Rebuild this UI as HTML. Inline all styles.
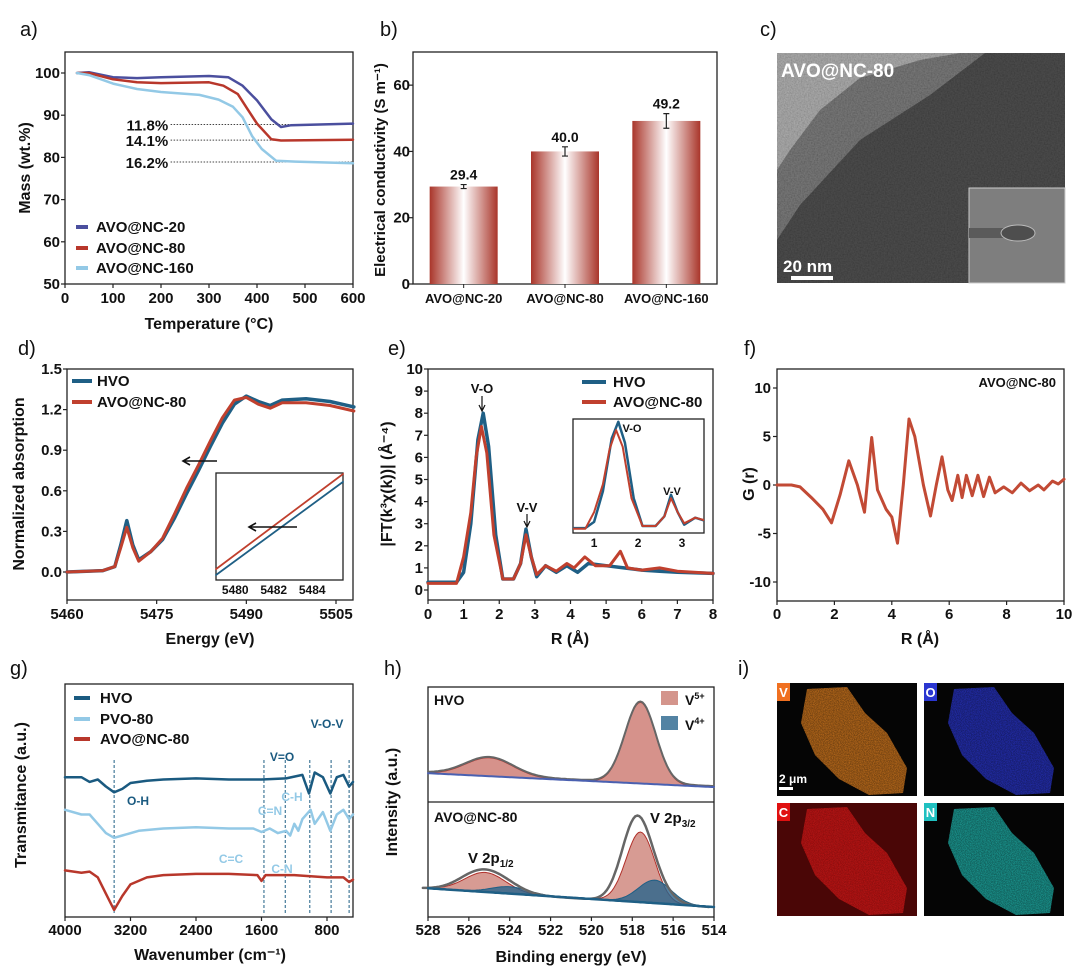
<!DOCTYPE html>
<html><head><meta charset="utf-8">
<style>
html,body{margin:0;padding:0;background:#fff;}
svg{display:block;font-family:"Liberation Sans",Arial,sans-serif;}
text{font-weight:bold;fill:#111;}
text.pl{font-weight:normal;}
</style></head>
<body>
<svg id="fig" width="1080" height="968" viewBox="0 0 1080 968" xmlns="http://www.w3.org/2000/svg">
<defs>
<linearGradient id="barGrad" x1="0" x2="1" y1="0" y2="0">
<stop offset="0" stop-color="#a9352a"/><stop offset="0.5" stop-color="#ffffff"/><stop offset="1" stop-color="#a9352a"/>
</linearGradient>
<filter id="noise" x="0" y="0" width="100%" height="100%">
<feTurbulence type="fractalNoise" baseFrequency="0.7" numOctaves="2" seed="3"/>
<feColorMatrix type="matrix" values="1 0 0 0 0  1 0 0 0 0  1 0 0 0 0  0 0 0 0 1"/>
</filter>
<filter id="speck" x="0" y="0" width="100%" height="100%">
<feTurbulence type="fractalNoise" baseFrequency="1.2" numOctaves="1" seed="7" result="t"/>
<feColorMatrix in="t" type="matrix" values="0 0 0 0 0  0 0 0 0 0  0 0 0 0 0  0 0 0 -1.6 1.1" result="m"/>
<feComposite in="SourceGraphic" in2="m" operator="in"/>
</filter>
</defs>
</svg>
<script>
// ---------- DATA ----------
// a) TGA
const tgaSeriesNames = ['AVO@NC-20','AVO@NC-80','AVO@NC-160'];
const tgaTemp20 = [25,50,100,150,200,300,340,370,400,430,450,470,600];
const tgaMass20 = [100,100.2,99,98.8,99,99.3,99,97,93.5,89,87.2,87.6,88];
const tgaTemp80 = [25,50,100,150,200,300,330,360,380,400,430,450,600];
const tgaMass80 = [100,100,98.5,97.8,97.6,97.8,97,95,91.5,88,84.3,84,84.2];
const tgaTemp160 = [25,50,100,150,200,280,320,350,370,390,410,440,480,600];
const tgaMass160 = [100,99.5,97.5,96.2,95.5,94.8,93.7,92,89.5,85,82,79.2,79,78.6];
const tgaLossLabels = ['11.8%','14.1%','16.2%'];
const tgaLossLevels = [87.8,84.1,78.9];
const tgaXTicks = [0,100,200,300,400,500,600];
const tgaYTicks = [50,60,70,80,90,100];
// b) conductivity
const condCats = ['AVO@NC-20','AVO@NC-80','AVO@NC-160'];
const condVals = [29.4,40.0,49.2];
const condErr = [0.6,1.4,2.2];
const condYTicks = [0,20,40,60];
// d) XANES
const xanesE_H = [5460,5466,5468,5469,5470,5471,5472,5474,5476,5478,5480,5482,5484,5486,5488,5490,5492,5494,5496,5500,5504,5508];
const xanesA_H = [0,0.01,0.04,0.2,0.38,0.2,0.09,0.15,0.24,0.4,0.58,0.75,0.93,1.1,1.24,1.3,1.26,1.23,1.27,1.28,1.26,1.22];
const xanesE_A = [5460,5466,5468,5469,5470,5471,5472,5474,5476,5478,5480,5482,5484,5486,5488,5490,5492,5494,5496,5500,5504,5508];
const xanesA_A = [0,0.01,0.04,0.18,0.33,0.18,0.08,0.15,0.25,0.43,0.62,0.79,0.97,1.14,1.27,1.29,1.24,1.21,1.25,1.25,1.23,1.19];
const xanesInsetE = [5479,5485.6];
const xanesInsetH = [0.50,0.735];
const xanesInsetA = [0.515,0.755];
const xanesXTicks = [5460,5475,5490,5505];
const xanesYTicks = [0,0.3,0.6,0.9,1.2,1.5];
const xanesInsetTicks = [5480,5482,5484];
// e) FT-EXAFS
const ftR_H = [0,0.5,0.8,1.0,1.2,1.4,1.55,1.7,1.9,2.1,2.4,2.6,2.75,2.9,3.05,3.3,3.6,3.9,4.2,4.5,5,5.5,6,6.5,7,8];
const ftM_H = [0.35,0.35,0.35,0.8,3,6.8,8.0,6.5,2.5,0.5,0.5,1.2,2.75,1.5,0.6,1.1,0.8,1.1,0.8,1.2,1.1,1.0,0.9,0.85,0.8,0.75];
const ftR_A = [0,0.5,0.8,1.0,1.2,1.35,1.5,1.65,1.85,2.1,2.4,2.6,2.75,2.9,3.05,3.3,3.6,3.9,4.1,4.4,4.7,5.1,5.4,5.6,6,6.5,7,8];
const ftM_A = [0.3,0.3,0.3,1.5,3.5,6,7.4,6.2,2.5,0.5,0.5,1.2,2.5,1.5,0.7,1.1,0.85,1.2,1.0,1.5,1.1,1.1,1.75,1.0,0.9,1.0,0.85,0.75];
const ftXTicks = [0,1,2,3,4,5,6,7,8];
const ftYTicks = [0,1,2,3,4,5,6,7,8,9,10];
const ftInsetTicks = [1,2,3];
// f) PDF
const pdfR = [0,0.5,0.8,1.2,1.6,1.9,2.2,2.5,2.8,3.05,3.3,3.5,3.8,4.0,4.2,4.4,4.6,4.8,5.1,5.35,5.55,5.75,5.95,6.1,6.3,6.45,6.6,6.8,7.0,7.2,7.4,7.6,7.9,8.2,8.5,8.8,9.1,9.3,9.6,9.8,10];
const pdfG = [0,0,-0.2,-1.3,-2.5,-3.9,-1,2.5,0,-2.8,4.9,-0.5,-2.5,-3.3,-6.0,0,6.8,5,0,-3.2,0,2.9,-0.5,-1.6,1,-1.3,1,-1.1,1,-1.2,0.8,-0.8,-0.2,-0.8,0.2,-0.6,0,-0.5,0.4,0.1,0.6];
const pdfXTicks = [0,2,4,6,8,10];
const pdfYTicks = [-10,-5,0,5,10];
// g) FTIR
const irWn_H = [4000,3800,3700,3600,3500,3400,3300,3200,3000,2800,2400,2000,1600,1300,1100,1020,950,850,760,680,600,530,482];
const irT_H = [60,60,58,59,56,53.5,55,57.5,58.5,59,59.5,59,59,59.5,61,53,62,60,53,60,61,56,58];
const irWn_P = [4000,3800,3700,3600,3500,3400,3300,3100,2800,2400,2000,1700,1600,1500,1400,1300,1250,1200,1150,1100,1000,950,850,760,680,600,530,482];
const irT_P = [46,44,44,40,36,34,35,37,38,38.5,38,38,36.5,38,36,37,35,40,37,42,46,40,45,37,44,46,42,44];
const irWn_A = [4000,3800,3700,3600,3500,3400,3300,3200,3000,2800,2400,2000,1650,1600,1550,1200,1000,800,600,530,482];
const irT_A = [20,19,19.5,17,10,3,9,14,17,18,18.5,18.5,18,15.5,18,18,17.5,17,17,15,16];
const irXTicks = [4000,3200,2400,1600,800];
const irMarkers = [3400,1570,1310,1010,750,530];
// h) XPS peak parameters [center eV, height, sigma]
const xpsHVO_V5 = [[517.6,70.5,0.75],[525.0,16,1.15]];
const xpsHVO_bg = [25,13];
const xpsAVO_V5 = [[517.6,61,0.7],[525.2,17,1.0]];
const xpsAVO_V4 = [[516.9,20,0.8],[524.0,6,0.9]];
const xpsAVO_bg = [25,8.7];
const xpsXTicks = [528,526,524,522,520,518,516,514];

// ---------- HELPERS ----------
const svg = document.getElementById('fig');
const NS = 'http://www.w3.org/2000/svg';
function el(tag, attrs, parent){
  const e = document.createElementNS(NS, tag);
  for (const k in attrs) e.setAttribute(k, attrs[k]);
  (parent||svg).appendChild(e);
  return e;
}
function lin(d0,d1,r0,r1){ return v => r0 + (v-d0)*(r1-r0)/(d1-d0); }
function pathFrom(xs, ys, fx, fy){
  return xs.map((x,i)=>(i?'L':'M')+fx(x).toFixed(1)+','+fy(ys[i]).toFixed(1)).join(' ');
}
function txt(x,y,s,size,anchor,name,extra){
  const t = el('text', Object.assign({x:x,y:y,'font-size':size,'text-anchor':anchor||'middle'}, extra||{}));
  t.textContent = s;
  
  
  return t;
}
function plabel(x,y,s,name){
  const t = txt(x,y,s,20,'start',name);
  t.setAttribute('class','pl');
  return t;
}
function box(x0,y0,x1,y1,name){
  const r = el('rect',{x:x0,y:y0,width:x1-x0,height:y1-y0,fill:'none',stroke:'#222','stroke-width':1.3});
  
  
  return r;
}
function xTicks(ticks, fx, yb, labelY, name, fmt, size){
  ticks.forEach(v=>{
    const l = el('line',{x1:fx(v),x2:fx(v),y1:yb,y2:yb+4,stroke:'#222','stroke-width':1.2});
    
    
    txt(fx(v), labelY, fmt?fmt(v):String(v), size||15, 'middle', name+'-label');
  });
}
function yTicks(ticks, fy, xl, labelX, name, fmt, size){
  ticks.forEach(v=>{
    const l = el('line',{x1:xl-4,x2:xl,y1:fy(v),y2:fy(v),stroke:'#222','stroke-width':1.2});
    
    
    txt(labelX, fy(v)+5, fmt?fmt(v):String(v), size||15, 'end', name+'-label');
  });
}
function series(d, color, w, name, dash){
  const p = el('path',{d:d,fill:'none',stroke:color,'stroke-width':w,'stroke-linejoin':'round','stroke-linecap':'round'});
  if (dash) p.setAttribute('stroke-dasharray', dash);
  
  
  return p;
}
function legendLine(x1,x2,y,color,label,name,tx){
  const l = el('line',{x1:x1,x2:x2,y1:y,y2:y,stroke:color,'stroke-width':4});
  
  
  txt(tx, y+5, label, 15, 'start', name+'-label');
}
function rotLabel(x,y,s,size,name){
  return txt(x,y,s,size,'middle',name,{transform:'rotate(-90 '+x+' '+y+')'});
}

const BLUE='#1f5f85', RED='#b8372b', LBLUE='#93c9e6';

// ---------- PANEL A ----------
plabel(20,36,'a)','panel-label-a');
const xa = lin(0,600,65,353), ya = lin(50,100,284,73);
box(65,52,353,284,'tga-plot-frame');
xTicks(tgaXTicks, xa, 284, 303, 'tga-x');
yTicks(tgaYTicks, ya, 65, 60, 'tga-y');
txt(209,329,'Temperature (°C)',16,'middle','tga-x-title');
rotLabel(30,168,'Mass (wt.%)',16,'tga-y-title');
tgaLossLevels.forEach((lv,i)=>{
  const l = el('line',{x1:xa(220),x2:xa(600),y1:ya(lv),y2:ya(lv),stroke:'#444','stroke-width':1,'stroke-dasharray':'1.5 1.5'});
  
  
  txt(xa(215), ya(lv)+6, tgaLossLabels[i], 15, 'end', 'tga-loss-label');
});
series(pathFrom(tgaTemp20,tgaMass20,xa,ya),'#4b4f9e',2.5,'tga-line-avo-nc-20');
series(pathFrom(tgaTemp80,tgaMass80,xa,ya),RED,2.5,'tga-line-avo-nc-80');
series(pathFrom(tgaTemp160,tgaMass160,xa,ya),LBLUE,2.5,'tga-line-avo-nc-160');
legendLine(76,88,227,'#4b4f9e',tgaSeriesNames[0],'tga-legend-20',96);
legendLine(76,88,248,RED,tgaSeriesNames[1],'tga-legend-80',96);
legendLine(76,88,268,LBLUE,tgaSeriesNames[2],'tga-legend-160',96);

// ---------- PANEL B ----------
plabel(380,36,'b)','panel-label-b');
const yb = lin(0,70,284,52);
const bStep = (717-413)/3;
const xbc = i => 413 + bStep*(i+0.5);
box(413,52,717,284,'conductivity-plot-frame');
yTicks(condYTicks, yb, 413, 410, 'conductivity-y', null, 15);
rotLabel(385,170,'Electrical conductivity (S m⁻¹)',15,'conductivity-y-title');
condCats.forEach((c,i)=>{
  const bw = 68;
  const r = el('rect',{x:xbc(i)-bw/2,y:yb(condVals[i]),width:bw,height:yb(0)-yb(condVals[i]),fill:'url(#barGrad)'});
  
  
  const e1 = el('path',{d:'M'+xbc(i)+','+yb(condVals[i]-condErr[i])+'V'+yb(condVals[i]+condErr[i])+'M'+(xbc(i)-3)+','+yb(condVals[i]-condErr[i])+'h6M'+(xbc(i)-3)+','+yb(condVals[i]+condErr[i])+'h6',stroke:'#222','stroke-width':1.2,fill:'none'});
  
  
  txt(xbc(i), yb(condVals[i]+condErr[i])-5, condVals[i].toFixed(1), 14, 'middle', 'conductivity-value-label');
  const tk = el('line',{x1:xbc(i),x2:xbc(i),y1:284,y2:288,stroke:'#222'});
  
  
  txt(xbc(i), 303, c, 13, 'middle', 'conductivity-category-label');
});

// ---------- PANEL C (TEM) ----------
plabel(760,36,'c)','panel-label-c');
const tem = el('g',{});


el('rect',{x:777,y:53,width:288,height:230,fill:'#3c3c3c'},tem);
el('polygon',{points:'777,53 985,53 930,95 860,140 800,205 777,240',fill:'#5f5f5f'},tem);
el('polygon',{points:'777,53 960,53 920,60 860,78 820,110 790,150 777,170',fill:'#8c8c8c'},tem);
el('rect',{x:777,y:53,width:288,height:230,filter:'url(#noise)',opacity:0.3,style:'mix-blend-mode:overlay'},tem);
el('rect',{x:969,y:188,width:96,height:95,fill:'#7e7e7e',stroke:'#ccc','stroke-width':1},tem);
el('rect',{x:969,y:228,width:50,height:10,fill:'#5a5a5a'},tem);
el('ellipse',{cx:1018,cy:233,rx:17,ry:8,fill:'#4e4e4e',stroke:'#bbb','stroke-width':1},tem);
const temT = txt(781,77,'AVO@NC-80',19,'start','tem-sample-label');
temT.style.fill='#fff';
const sbT = txt(783,272,'20 nm',17,'start','tem-scale-label');
sbT.style.fill='#fff';
const sb = el('rect',{x:791,y:276,width:42,height:4,fill:'#fff'});



// ---------- PANEL D ----------
plabel(18,355,'d)','panel-label-d');
const xd = lin(5460,5505,67,336), yd = lin(0,1.5,572,369);
box(67,369,353,600,'xanes-plot-frame');
xTicks(xanesXTicks, xd, 600, 619, 'xanes-x');
yTicks(xanesYTicks, yd, 67, 62, 'xanes-y', v=>v.toFixed(1));
txt(210,644,'Energy (eV)',16,'middle','xanes-x-title');
rotLabel(24,484,'Normalized absorption',16,'xanes-y-title');
series(pathFrom(xanesE_H,xanesA_H,xd,yd),BLUE,3.5,'xanes-line-hvo');
series(pathFrom(xanesE_A,xanesA_A,xd,yd),'#c0402e',3,'xanes-line-avo');
legendLine(72,92,381,BLUE,'HVO','xanes-legend-hvo',97);
legendLine(72,92,402,'#c0402e','AVO@NC-80','xanes-legend-avo',97);
const arrD = el('path',{d:'M217,461H184M190,457L183,461L190,465',stroke:'#111','stroke-width':1.6,fill:'none'});


box(216,473,343,580,'xanes-inset-frame');
const xdi = lin(5479,5485.6,216,343), ydi = lin(0.5,0.75,575,476);
series(pathFrom(xanesInsetE,xanesInsetH,xdi,ydi),BLUE,1.8,'xanes-inset-line-hvo');
series(pathFrom(xanesInsetE,xanesInsetA,xdi,ydi),'#c0402e',1.8,'xanes-inset-line-avo');
xanesInsetTicks.forEach(v=>{ txt(xdi(v),594,String(v),12,'middle','xanes-inset-x-label'); });
const arrDi = el('path',{d:'M297,527H250M256,523L249,527L256,531',stroke:'#111','stroke-width':1.6,fill:'none'});



// ---------- PANEL E ----------
plabel(388,355,'e)','panel-label-e');
const xe = lin(0,8,428,713), ye = lin(0,10,590,369);
box(428,369,713,600,'ft-plot-frame');
xTicks(ftXTicks, xe, 600, 619, 'ft-x');
yTicks(ftYTicks, ye, 428, 423, 'ft-y');
txt(570,644,'R (Å)',16,'middle','ft-x-title');
rotLabel(392,484,'|FT(k³χ(k))| (Å⁻⁴)',16,'ft-y-title');
series(pathFrom(ftR_H,ftM_H,xe,ye),BLUE,3.5,'ft-line-hvo');
series(pathFrom(ftR_A,ftM_A,xe,ye),'#c0402e',3,'ft-line-avo');
txt(482,393,'V-O',13,'middle','ft-peak-label-vo');
txt(527,512,'V-V',13,'middle','ft-peak-label-vv');
const arrE = el('path',{d:'M482,396V410M479,405L482,411L485,405M527,514V526M524,521L527,527L530,521',stroke:'#111','stroke-width':1.2,fill:'none'});


legendLine(582,606,382,BLUE,'HVO','ft-legend-hvo',613);
legendLine(582,606,402,'#c0402e','AVO@NC-80','ft-legend-avo',613);
box(573,419,704,533,'ft-inset-frame');
const xei = lin(0.52,3.5,573,704), yei = lin(0,8.2,533,419);
const clipE = el('clipPath',{id:'clipE'});
el('rect',{x:573,y:419,width:131,height:114},clipE);
const gi = el('g',{'clip-path':'url(#clipE)'});
gi.appendChild(series(pathFrom(ftR_H,ftM_H,xei,yei),BLUE,2.5,'ft-inset-line-hvo'));
gi.appendChild(series(pathFrom(ftR_A,ftM_A,xei,yei),'#c0402e',2,'ft-inset-line-avo'));
ftInsetTicks.forEach(v=>{ txt(xei(v),547,String(v),12,'middle','ft-inset-x-label'); });
txt(632,432,'V-O',11,'middle','ft-inset-label-vo');
txt(672,495,'V-V',11,'middle','ft-inset-label-vv');

// ---------- PANEL F ----------
plabel(744,355,'f)','panel-label-f');
const xf = lin(0,10,777,1064), yf = lin(-10,10,582,388);
box(777,369,1064,601,'pdf-plot-frame');
xTicks(pdfXTicks, xf, 601, 619, 'pdf-x');
yTicks(pdfYTicks, yf, 777, 771, 'pdf-y');
txt(920,644,'R (Å)',16,'middle','pdf-x-title');
rotLabel(754,484,'G (r)',16,'pdf-y-title');
series(pathFrom(pdfR,pdfG,xf,yf),'#c24a35',3,'pdf-line-avo');
txt(1056,387,'AVO@NC-80',13,'end','pdf-sample-label');

// ---------- PANEL G ----------
plabel(10,675,'g)','panel-label-g');
const xg = lin(4000,800,65,327), yg = lin(0,100,917,684);
box(65,684,353,917,'ftir-plot-frame');
xTicks(irXTicks, xg, 917, 935, 'ftir-x');
txt(210,960,'Wavenumber (cm⁻¹)',16,'middle','ftir-x-title');
rotLabel(26,795,'Transmitance (a.u.)',16,'ftir-y-title');
irMarkers.forEach(w=>{
  const l = el('line',{x1:xg(w),x2:xg(w),y1:760,y2:915,stroke:'#1f5f85','stroke-width':1,'stroke-dasharray':'3 2'});
  
  
});
series(pathFrom(irWn_H,irT_H,xg,yg),'#1a5a80',2.5,'ftir-line-hvo');
series(pathFrom(irWn_P,irT_P,xg,yg),LBLUE,2.5,'ftir-line-pvo');
series(pathFrom(irWn_A,irT_A,xg,yg),RED,2.5,'ftir-line-avo');
legendLine(74,90,698,'#1a5a80','HVO','ftir-legend-hvo',100);
legendLine(74,90,719,LBLUE,'PVO-80','ftir-legend-pvo',100);
legendLine(74,90,739,RED,'AVO@NC-80','ftir-legend-avo',100);
[['V=O',282,761,'#1a5a80'],['V-O-V',327,728,'#1a5a80'],['O-H',138,805,'#1a5a80'],['C-H',292,801,LBLUE],['C=N',270,815,LBLUE],['C=C',231,863,LBLUE],['C-N',282,873,LBLUE]].forEach(a=>{
  const t = txt(a[1],a[2],a[0],12,'middle','ftir-band-label');
  t.style.fill = a[3];
});

// ---------- PANEL H ----------
plabel(384,675,'h)','panel-label-h');
const xh = lin(528,514,428,714);
const yh1 = v => 802 - v*1.15, yh2 = v => 917 - v*1.15;
box(428,687,714,917,'xps-plot-frame');
const dv = el('line',{x1:428,x2:714,y1:802,y2:802,stroke:'#222','stroke-width':1.3});


xTicks(xpsXTicks, xh, 917, 935, 'xps-x');
txt(571,962,'Binding energy (eV)',16,'middle','xps-x-title');
rotLabel(397,802,'Intensity (a.u.)',16,'xps-y-title');
const eGrid = []; for (let e=528; e>=514-1e-9; e-=0.1) eGrid.push(+e.toFixed(2));
function bg(bgArr,e){ return bgArr[0] + (bgArr[1]-bgArr[0])*(528-e)/14; }
function peakSum(arr,e){ return arr.reduce((s,p)=>s+p[1]*Math.exp(-Math.pow(e-p[0],2)/(2*p[2]*p[2])),0); }
function area(fnTop, fnBot, fy, fill, name, stroke){
  const top = eGrid.map((e,i)=>(i?'L':'M')+xh(e).toFixed(1)+','+fy(fnTop(e)).toFixed(1)).join('');
  const bot = eGrid.slice().reverse().map(e=>'L'+xh(e).toFixed(1)+','+fy(fnBot(e)).toFixed(1)).join('');
  const p = el('path',{d:top+bot+'Z',fill:fill,stroke:stroke||'none','stroke-width':1});
  
  
}
area(e=>bg(xpsHVO_bg,e)+peakSum(xpsHVO_V5,e), e=>bg(xpsHVO_bg,e), yh1, 'rgba(200,110,100,0.75)', 'xps-hvo-v5-area','#b0302a');
series(eGrid.map((e,i)=>(i?'L':'M')+xh(e).toFixed(1)+','+yh1(bg(xpsHVO_bg,e)+peakSum(xpsHVO_V5,e)+0.8).toFixed(1)).join(''),'#666',2,'xps-hvo-envelope');
series(eGrid.map((e,i)=>(i?'L':'M')+xh(e).toFixed(1)+','+yh1(bg(xpsHVO_bg,e)).toFixed(1)).join(''),'#4a60b0',2,'xps-hvo-background');
area(e=>bg(xpsAVO_bg,e)+peakSum(xpsAVO_V5,e), e=>bg(xpsAVO_bg,e), yh2, 'rgba(205,130,120,0.8)', 'xps-avo-v5-area','#b0302a');
area(e=>bg(xpsAVO_bg,e)+peakSum(xpsAVO_V4,e), e=>bg(xpsAVO_bg,e), yh2, 'rgba(40,100,140,0.8)', 'xps-avo-v4-area','#1f5f85');
series(eGrid.map((e,i)=>(i?'L':'M')+xh(e+0.25).toFixed(1)+','+yh2(bg(xpsAVO_bg,e)+peakSum(xpsAVO_V5,e)+peakSum(xpsAVO_V4,e)).toFixed(1)).join(''),'#666',2.5,'xps-avo-envelope');
series(eGrid.map((e,i)=>(i?'L':'M')+xh(e).toFixed(1)+','+yh2(bg(xpsAVO_bg,e)).toFixed(1)).join(''),'#1f5f85',2.5,'xps-avo-background');
txt(434,705,'HVO',14,'start','xps-label-hvo');
txt(434,822,'AVO@NC-80',14,'start','xps-label-avo');
const lg5 = el('rect',{x:661,y:691,width:17,height:14,fill:'rgba(205,130,120,0.85)'});


const lg4 = el('rect',{x:661,y:716,width:17,height:14,fill:'rgba(40,100,140,0.8)'});


txt(685,705,'V',14,'start','xps-legend-v5-label').innerHTML='V<tspan dy="-6" font-size="9">5+</tspan>';
txt(685,730,'V',14,'start','xps-legend-v4-label').innerHTML='V<tspan dy="-6" font-size="9">4+</tspan>';
txt(650,823,'V',15,'start','xps-label-2p32').innerHTML='V 2p<tspan dy="4" font-size="10">3/2</tspan>';
txt(468,863,'V',15,'start','xps-label-2p12').innerHTML='V 2p<tspan dy="4" font-size="10">1/2</tspan>';

// ---------- PANEL I (EDS maps) ----------
plabel(738,675,'i)','panel-label-i');
const tiles = [['V',777,683,'#e08020','#f07020'],['O',924,683,'#2a36d0','#2a36d0'],['C',777,803,'#d01818','#e01010'],['N',924,803,'#20b8b0','#20c0c0']];
const blob = '30,6 70,4 88,30 110,50 130,85 126,110 92,112 62,96 38,72 24,40';
tiles.forEach(t=>{
  const g = el('g',{transform:'translate('+t[1]+','+t[2]+')'});
  
  
  el('rect',{x:0,y:0,width:140,height:113,fill:'#050505'},g);
  if (t[0]==='C') el('rect',{x:0,y:0,width:140,height:113,fill:'#4a0606'},g);
  el('polygon',{points:blob,fill:t[3],opacity:0.5},g);
  el('polygon',{points:blob,fill:t[3],opacity:0.9,filter:'url(#speck)'},g);
  el('rect',{x:0,y:0,width:13,height:18,fill:t[4]},g);
  const lt = el('text',{x:6.5,y:14,'font-size':13,'text-anchor':'middle'},g);
  lt.textContent = t[0];
  lt.style.fill = '#fff';
  
  
});
const sbi = el('rect',{x:779,y:787,width:14,height:3,fill:'#fff'});


const sbit = txt(779,783,'2 μm',12,'start','eds-scale-label');
sbit.style.fill='#fff';
</script>
</body></html>
